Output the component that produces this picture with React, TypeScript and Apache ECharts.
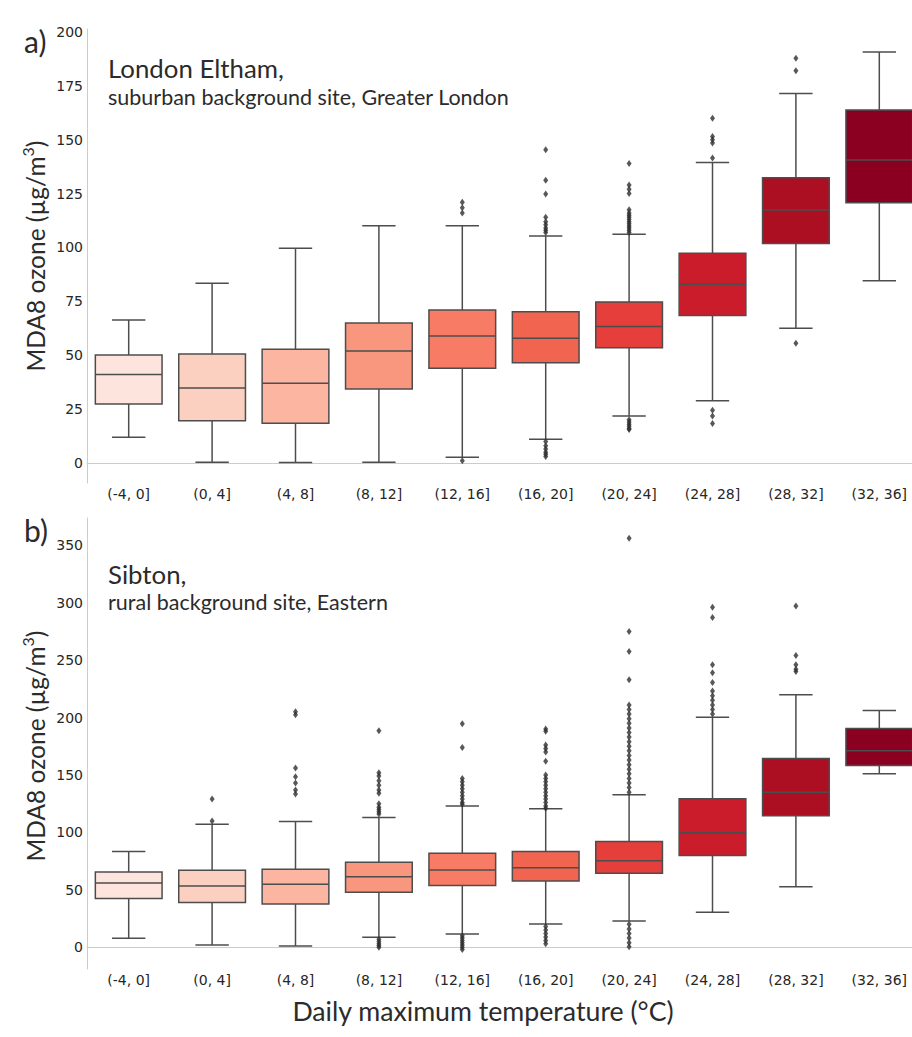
import React, { useEffect, useRef } from 'react';
import * as echarts from 'echarts';

const categories = ['(-4, 0]', '(0, 4]', '(4, 8]', '(8, 12]', '(12, 16]', '(16, 20]', '(20, 24]', '(24, 28]', '(28, 32]', '(32, 36]'];

const londonTicks = [0, 25, 50, 75, 100, 125, 150, 175, 200];
const sibtonTicks = [0, 50, 100, 150, 200, 250, 300, 350];

// [lower whisker, Q1, median, Q3, upper whisker]
const londonBoxes = [
  [11.9, 27.4, 41.1, 50.1, 66.4],
  [0.3, 19.6, 34.8, 50.6, 83.4],
  [0.2, 18.4, 37.0, 52.8, 99.6],
  [0.3, 34.3, 52.0, 65.0, 110.1],
  [2.6, 43.9, 58.9, 71.0, 110.1],
  [11.0, 46.5, 57.9, 70.2, 105.3],
  [21.8, 53.5, 63.3, 74.7, 106.1],
  [28.9, 68.4, 82.9, 97.3, 139.4],
  [62.5, 101.8, 117.4, 132.4, 171.5],
  [84.6, 120.8, 140.6, 163.8, 190.7],
];

const londonOutliers = [
  [],
  [],
  [],
  [],
  [121, 118.5, 116, 1],
  [145.4, 131.2, 124.8, 114, 112, 110.5, 109, 108, 107, 10, 8, 6.5, 5, 4, 3],
  [139, 129, 127, 125, 117.5, 116, 115, 114, 113, 112, 111, 110, 109, 108, 107, 20, 19, 18, 17, 16, 15.5],
  [160, 151.5, 150, 148.5, 141.5, 24.5, 21.8, 18.3],
  [187.8, 182, 55.5],
  [],
];

const sibtonBoxes = [
  [7.8, 42.4, 56.0, 65.6, 83.3],
  [2.0, 38.9, 53.4, 67.0, 107.1],
  [1.1, 37.7, 54.9, 67.9, 109.4],
  [8.7, 47.9, 61.5, 74.0, 112.9],
  [11.6, 53.7, 67.3, 81.9, 123.1],
  [20.3, 57.8, 69.3, 83.3, 120.5],
  [22.9, 64.5, 75.4, 92.0, 132.7],
  [30.5, 79.8, 99.8, 129.2, 200.3],
  [52.8, 114.4, 135.0, 164.3, 219.8],
  [151.0, 158.2, 171.0, 190.4, 206.1],
];

const sibtonOutliers = [
  [],
  [129, 110],
  [205, 202.5, 156, 148.5, 143, 137, 133.5],
  [188.5, 152, 149, 145, 141, 137, 134, 125, 122, 120, 118, 116, 7, 5, 3, 1.5, 0],
  [194.5, 174, 147, 144, 141, 138, 135, 132, 129, 126, 124.5, 10, 8, 6, 4, 2, 0, -2],
  [190, 188, 176, 173, 170, 162, 150, 147, 144, 141, 138, 135, 132, 129, 126, 123, 121, 18, 15, 12, 9, 6, 3],
  [356, 275, 257.5, 233, 211, 207, 203, 199, 195, 191, 187, 183, 179, 175, 171, 167, 163, 159, 155, 151, 147, 143, 139, 135, 20, 16, 12, 8, 4, 0.5],
  [296, 287, 246, 239, 230.5, 223, 219, 215, 211, 207, 203],
  [297, 254, 246, 242, 240],
  [],
];

const boxColors = ['#fde4dc', '#fcd0c0', '#fbb5a0', '#f9967e', '#f77b65', '#f06450', '#e63e3a', '#cb1c2b', '#ac0f22', '#8b0020'];

const LINE = '#4d4d4d';

const renderBox = (params: any, api: any) => {
  const idx = api.value(0);
  const low = api.coord([idx, api.value(1)]);
  const q1 = api.coord([idx, api.value(2)]);
  const med = api.coord([idx, api.value(3)]);
  const q3 = api.coord([idx, api.value(4)]);
  const high = api.coord([idx, api.value(5)]);
  const band = api.size([1, 0])[0];
  const bw = band * 0.8;
  const cx = low[0];
  const ls = { stroke: LINE, lineWidth: 1.5 };
  return {
    type: 'group',
    children: [
      { type: 'line', shape: { x1: cx, y1: low[1], x2: cx, y2: q1[1] }, style: ls },
      { type: 'line', shape: { x1: cx, y1: q3[1], x2: cx, y2: high[1] }, style: ls },
      { type: 'line', shape: { x1: cx - bw / 4, y1: low[1], x2: cx + bw / 4, y2: low[1] }, style: ls },
      { type: 'line', shape: { x1: cx - bw / 4, y1: high[1], x2: cx + bw / 4, y2: high[1] }, style: ls },
      {
        type: 'rect',
        shape: { x: cx - bw / 2, y: q3[1], width: bw, height: q1[1] - q3[1] },
        style: { fill: boxColors[idx], stroke: LINE, lineWidth: 1.5 },
      },
      { type: 'line', shape: { x1: cx - bw / 2, y1: med[1], x2: cx + bw / 2, y2: med[1] }, style: ls },
    ],
  };
};

const axisLabelStyle = { fontFamily: 'DejaVu Sans', fontSize: 14, color: '#262626' };
const axisLineStyle = { show: true, lineStyle: { color: '#cccccc', width: 1 } };

const yTitle = (x: number, y: number) => ({
  type: 'text',
  x,
  y,
  rotation: Math.PI / 2,
  style: {
    text: '{a|MDA8 ozone (µg/m}{s|3}{a|)}',
    align: 'center',
    verticalAlign: 'middle',
    fill: '#2b2b2b',
    rich: {
      a: { fontFamily: 'Lato', fontSize: 24.5, lineHeight: 32, fill: '#2b2b2b' },
      s: { fontFamily: 'Lato', fontSize: 16, lineHeight: 16, verticalAlign: 'top', fill: '#2b2b2b' },
    },
  },
});

const txt = (text: string, x: number, y: number, size: number) => ({
  type: 'text',
  x,
  y,
  style: { text, fontFamily: 'Lato', fontSize: size, fill: '#2b2b2b', align: 'left', verticalAlign: 'middle' },
});

export default function App() {
  const ref = useRef<HTMLDivElement>(null);
  useEffect(() => {
    if (!ref.current) return;
    const chart = echarts.init(ref.current, null, { renderer: 'svg' });
    const mkX = (gi: number) => ({
      type: 'category',
      gridIndex: gi,
      data: categories,
      boundaryGap: true,
      axisLine: axisLineStyle,
      axisTick: { show: false },
      axisLabel: { ...axisLabelStyle, margin: 4, interval: 0 },
      splitLine: { show: false },
    });
    const mkY = (gi: number, min: number, max: number, ticks: number[]) => ({
      type: 'value',
      gridIndex: gi,
      min,
      max,
      axisLine: axisLineStyle,
      axisTick: { show: false },
      splitLine: { show: false },
      axisLabel: { ...axisLabelStyle, margin: 4, customValues: ticks },
    });
    const boxData = (boxes: number[][]) => boxes.map((b, i) => [i, ...b]);
    const outData = (outs: number[][]) => outs.flatMap((vals, i) => vals.map((v) => [i, v]));
    chart.setOption({
      animation: false,
      backgroundColor: '#ffffff',
      grid: [
        { left: 87, top: 29, width: 834, height: 454 },
        { left: 87, top: 518, width: 834, height: 451 },
      ],
      xAxis: [mkX(0), mkX(1)],
      yAxis: [mkY(0, -9.3, 201.4, londonTicks), mkY(1, -18.9, 373.7, sibtonTicks)],
      series: [
        {
          type: 'custom',
          xAxisIndex: 0,
          yAxisIndex: 0,
          renderItem: renderBox,
          encode: { x: 0, y: [1, 2, 3, 4, 5] },
          data: boxData(londonBoxes),
          clip: false,
        },
        {
          type: 'scatter',
          xAxisIndex: 0,
          yAxisIndex: 0,
          symbol: 'diamond',
          symbolSize: [5, 7],
          itemStyle: { color: '#2e2e2e' },
          data: outData(londonOutliers),
          z: 3,
        },
        {
          type: 'custom',
          xAxisIndex: 1,
          yAxisIndex: 1,
          renderItem: renderBox,
          encode: { x: 0, y: [1, 2, 3, 4, 5] },
          data: boxData(sibtonBoxes),
          clip: false,
        },
        {
          type: 'scatter',
          xAxisIndex: 1,
          yAxisIndex: 1,
          symbol: 'diamond',
          symbolSize: [5, 7],
          itemStyle: { color: '#2e2e2e' },
          data: outData(sibtonOutliers),
          z: 3,
        },
      ],
      graphic: [
        txt('a)', 24, 41, 30),
        txt('b)', 24, 530, 30),
        txt('London Eltham,', 108, 68, 25.8),
        txt('suburban background site, Greater London', 108, 97, 21.5),
        txt('Sibton,', 108, 574, 25.8),
        txt('rural background site, Eastern', 108, 602, 21.5),
        yTitle(35, 256),
        yTitle(35, 746),
        {
          type: 'text',
          x: 483,
          y: 1011,
          style: {
            text: 'Daily maximum temperature (°C)',
            fontFamily: 'Lato',
            fontSize: 26.7,
            fill: '#2b2b2b',
            align: 'center',
            verticalAlign: 'middle',
          },
        },
      ],
    });
    return () => chart.dispose();
  }, []);
  return (
    <div style={{ position: 'absolute', left: 0, top: 0, width: 912, height: 1037, overflow: 'hidden', background: '#fff' }}>
      <div ref={ref} style={{ width: 940, height: 1037 }} />
    </div>
  );
}
